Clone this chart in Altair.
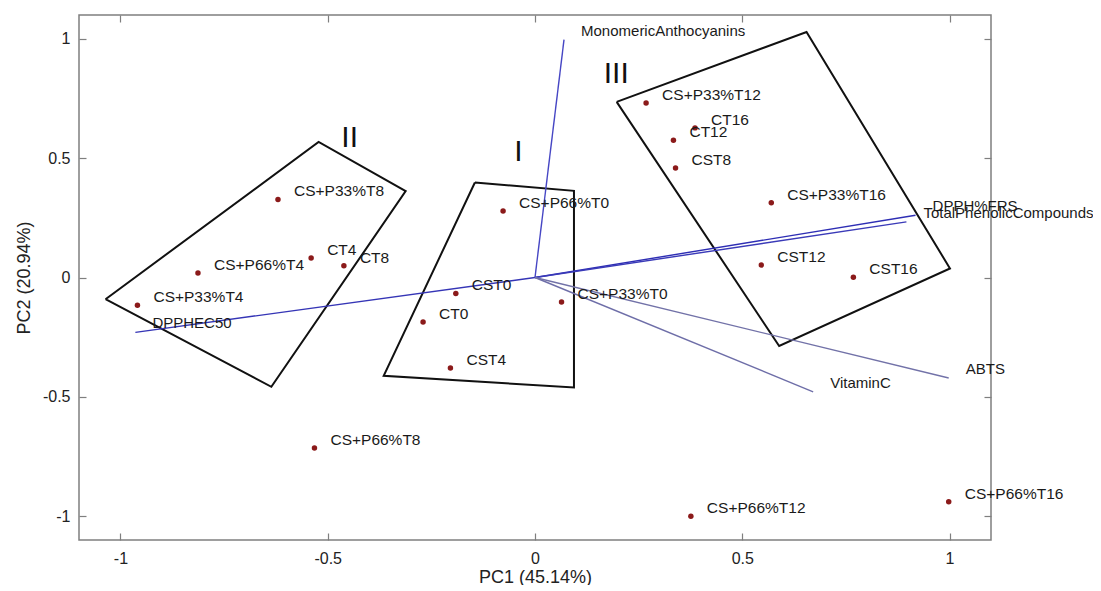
import altair as alt
import pandas as pd

# ---- observation scores (PC1, PC2) ----
obs_names = ["CS+P33%T8", "CS+P66%T4", "CT4", "CT8", "CS+P33%T4", "CS+P66%T8",
             "CS+P66%T0", "CST0", "CT0", "CST4", "CS+P33%T0", "CS+P66%T12",
             "CS+P66%T16", "CS+P33%T12", "CT16", "CT12", "CST8", "CS+P33%T16",
             "CST12", "CST16"]
obs_pc1 = [-0.620, -0.813, -0.540, -0.461, -0.959, -0.532,
           -0.077, -0.191, -0.270, -0.204, 0.064, 0.376,
           0.998, 0.268, 0.386, 0.334, 0.339, 0.570,
           0.546, 0.768]
obs_pc2 = [0.327, 0.019, 0.082, 0.049, -0.116, -0.714,
           0.279, -0.067, -0.186, -0.379, -0.103, -1.000,
           -0.940, 0.731, 0.627, 0.575, 0.459, 0.313,
           0.052, 0.001]

# ---- variable loadings (vectors from origin) ----
var_names = ["MonomericAnthocyanins", "DPPH%FRS", "TotalPhenolicCompounds",
             "DPPHEC50", "ABTS", "VitaminC"]
var_pc1 = [0.070, 0.918, 0.896, -0.964, 0.998, 0.671]
var_pc2 = [0.997, 0.261, 0.233, -0.230, -0.421, -0.479]

# ---- group outlines (closed polygons) ----
hull_group = ["I"] * 5 + ["II"] * 5 + ["III"] * 5
hull_vertex = [0, 1, 2, 3, 4] * 3
hull_pc1 = [-0.145, 0.094, 0.094, -0.365, -0.145,
            -1.036, -0.522, -0.312, -0.636, -1.036,
            0.197, 0.655, 1.001, 0.589, 0.197]
hull_pc2 = [0.398, 0.363, -0.461, -0.412, 0.398,
            -0.091, 0.568, 0.362, -0.458, -0.091,
            0.736, 1.029, 0.038, -0.287, 0.736]

# ---- group labels ----
group_names = ["I", "II", "III"]
group_pc1 = [-0.040, -0.447, 0.196]
group_pc2 = [0.527, 0.584, 0.852]

tick_values = [-1, -0.5, 0, 0.5, 1]

obs_df = pd.DataFrame({"name": obs_names, "pc1": obs_pc1, "pc2": obs_pc2})
var_df = pd.DataFrame({"name": var_names, "pc1": var_pc1, "pc2": var_pc2})
var_df["o1"] = 0.0
var_df["o2"] = 0.0
hull_df = pd.DataFrame({"group": hull_group, "v": hull_vertex,
                        "pc1": hull_pc1, "pc2": hull_pc2})
grp_df = pd.DataFrame({"name": group_names, "pc1": group_pc1, "pc2": group_pc2})

FONT = "Liberation Sans"
sx = alt.Scale(domain=[-1.1, 1.1], nice=False, zero=False)
sy = alt.Scale(domain=[-1.1, 1.1], nice=False, zero=False)

common_axis = dict(values=tick_values, offset=-7, tickSize=7, tickColor="#7f7f7f",
                   tickWidth=1.2, domain=False, grid=False)

x_bottom = alt.Axis(orient="bottom", labelFont=FONT, labelFontSize=16,
                    labelColor="#222222", labelPadding=10,
                    labelExpr="'' + datum.value",
                    title="PC1 (45.14%)", titleFont=FONT, titleFontSize=18,
                    titleFontWeight="normal", titleColor="#222222",
                    titlePadding=2, **common_axis)
y_left = alt.Axis(orient="left", labelFont=FONT, labelFontSize=16,
                  labelColor="#222222", labelPadding=9,
                  labelExpr="'' + datum.value",
                  title="PC2 (20.94%)", titleFont=FONT, titleFontSize=18,
                  titleFontWeight="normal", titleColor="#222222",
                  titlePadding=9, **common_axis)
x_top = alt.Axis(orient="top", labels=False, title=None, **common_axis)
y_right = alt.Axis(orient="right", labels=False, title=None, **common_axis)

hulls = alt.Chart(hull_df).mark_line(color="#111111", strokeWidth=2,
                                     strokeJoin="miter").encode(
    x=alt.X("pc1:Q", scale=sx, axis=x_top),
    y=alt.Y("pc2:Q", scale=sy, axis=y_right),
    detail="group:N",
    order="v:Q",
)

vectors = alt.Chart(var_df).mark_rule(strokeWidth=1.4).encode(
    x=alt.X("o1:Q", scale=sx, axis=None),
    y=alt.Y("o2:Q", scale=sy, axis=None),
    x2="pc1:Q",
    y2="pc2:Q",
    color=alt.Color("name:N", legend=None,
                    scale=alt.Scale(domain=var_names,
                                    range=["#4646c4", "#2e2eb4", "#3a3ab8",
                                           "#3535b6", "#7272a8", "#6e6ea8"])),
)

var_labels = alt.Chart(var_df).mark_text(
    align="left", baseline="middle", dx=17, dy=-9, font=FONT, fontSize=15,
    color="#1a1a1a").encode(
    x=alt.X("pc1:Q", scale=sx, axis=None),
    y=alt.Y("pc2:Q", scale=sy, axis=None),
    text="name:N",
)

points = alt.Chart(obs_df).mark_point(filled=True, shape="circle", size=30,
                                      color="#8b1a1a", opacity=1).encode(
    x=alt.X("pc1:Q", scale=sx, axis=x_bottom),
    y=alt.Y("pc2:Q", scale=sy, axis=y_left),
)

obs_labels = alt.Chart(obs_df).mark_text(
    align="left", baseline="middle", dx=16, dy=-8, font=FONT, fontSize=15.5,
    color="#1a1a1a").encode(
    x=alt.X("pc1:Q", scale=sx, axis=None),
    y=alt.Y("pc2:Q", scale=sy, axis=None),
    text="name:N",
)

grp_labels = alt.Chart(grp_df).mark_text(
    align="center", baseline="middle", font=FONT, fontSize=30,
    color="#111111").encode(
    x=alt.X("pc1:Q", scale=sx, axis=None),
    y=alt.Y("pc2:Q", scale=sy, axis=None),
    text="name:N",
)

chart = alt.layer(hulls, vectors, var_labels, points, obs_labels, grp_labels).resolve_axis(
    x="independent", y="independent"
).properties(
    width=912, height=525,
    autosize=alt.AutoSizeParams(type="none"),
    padding={"left": 71, "top": 7, "right": 102, "bottom": 45},
    background="white",
).configure_view(stroke="#7f7f7f", strokeWidth=1.5)

chart.save("out.html", embed_options={"renderer": "svg", "actions": False})
